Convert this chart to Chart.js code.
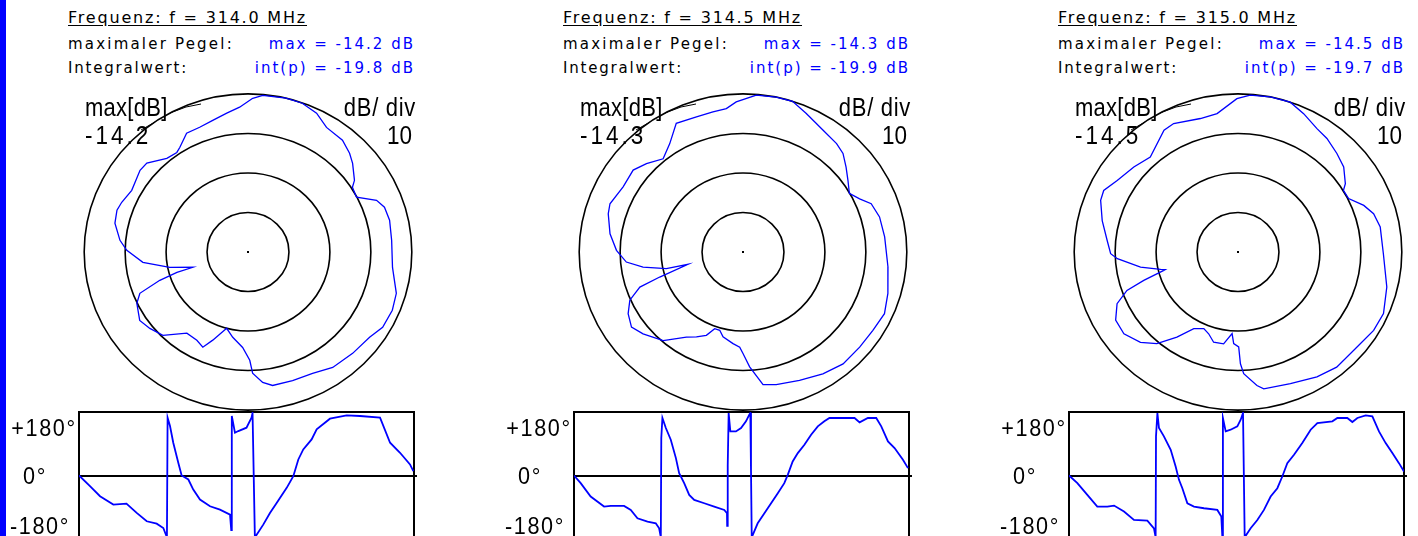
<!DOCTYPE html>
<html><head><meta charset="utf-8">
<script src="https://cdn.jsdelivr.net/npm/chart.js@4"></script>
<style>
html,body{margin:0;padding:0;width:1418px;height:536px;overflow:hidden;background:#fff;}
#strip{position:absolute;left:0;top:0;width:6px;height:536px;background:#0000ff;}
.t{position:absolute;white-space:pre;font-family:"DejaVu Sans",sans-serif;color:#000;}
.blue{color:#0000ff;}
canvas{position:absolute;}
</style></head><body>
<div id="strip"></div>
<script>
// ---------- data ----------
const frequencies = [314.0, 314.5, 315.0];      // MHz
const maxLevels = [-14.2, -14.3, -14.5];         // dB
const integralValues = [-19.8, -19.9, -19.7];    // dB
const dbPerDiv = 10;
const ringCount = 4;

// polar pattern: angle (deg, clockwise from top) and level (dB)
const polarAngles1 = [1.7,5.2,13.4,19.4,25.5,31.3,39.2,44.8,48.7,55.1,57.3,62.4,67.4,71.2,76.9,85.2,96.3,106.1,112.7,120.1,126.0,135.1,144.7,152.8,161.5,169.9,173.8,177.9,179.1,183.1,189.8,195.1,201.1,204.6,209.2,216.0,224.6,231.1,236.8,244.4,248.4,251.6,253.5,254.0,258.5,264.2,270.8,275.4,282.6,288.3,292.2,298.8,308.1,312.3,320.1,325.4,327.9,333.5,339.5,345.5,351.6,356.8];
const polarLevels1 = [-15.3,-14.4,-14.2,-14.3,-15.3,-17.3,-17.7,-19.0,-20.2,-22.5,-23.9,-24.3,-20.2,-19.0,-18.7,-19.0,-18.7,-16.5,-16.0,-16.2,-17.5,-18.0,-18.4,-19.7,-19.9,-19.9,-21.0,-23.5,-26.8,-30.0,-32.3,-34.2,-30.3,-27.7,-28.6,-28.8,-24.6,-23.4,-22.6,-24.1,-25.8,-31.5,-36.1,-40.2,-34.7,-28.4,-24.6,-22.8,-20.9,-20.5,-20.9,-21.8,-20.7,-20.8,-23.3,-23.6,-22.9,-20.6,-20.5,-19.8,-18.7,-17.5];

const polarAngles2 = [4.7,11.6,17.6,23.8,32.3,39.8,44.4,49.5,54.7,60.3,64.7,68.7,75.1,83.7,96.1,106.5,114.3,122.0,130.2,139.2,147.7,157.0,166.4,171.7,176.8,180.0,181.9,186.0,192.8,196.0,199.6,203.0,207.9,212.7,221.0,229.7,235.1,240.9,246.2,250.6,252.7,256.9,257.3,261.1,264.9,270.8,278.1,286.4,290.6,299.4,307.7,313.5,320.4,326.8,333.4,341.6,348.3,353.6,357.5];
const polarLevels2 = [-14.5,-14.3,-14.3,-16.0,-17.8,-18.6,-19.4,-21.2,-22.9,-24.4,-22.8,-20.7,-19.8,-19.5,-18.7,-17.4,-16.4,-16.9,-17.0,-16.9,-17.8,-19.0,-19.8,-20.4,-25.2,-28.6,-30.2,-31.0,-32.3,-33.7,-33.7,-31.4,-30.0,-28.7,-24.6,-22.3,-21.1,-22.2,-24.1,-27.6,-33.0,-40.5,-35.1,-29.6,-25.7,-23.4,-21.5,-20.0,-19.6,-20.7,-20.4,-21.8,-23.7,-21.6,-17.9,-18.3,-18.1,-17.8,-16.3];

const polarAngles3 = [4.3,11.3,18.6,24.6,31.7,37.1,44.1,50.2,56.6,58.8,63.4,69.0,73.7,79.7,90.7,103.7,113.7,120.9,129.7,140.4,148.6,159.0,169.7,172.2,177.4,178.8,179.6,182.6,184.0,188.6,194.6,199.1,203.3,209.1,214.7,220.5,226.2,233.4,240.0,246.1,250.3,252.7,255.6,256.0,256.9,260.9,266.7,269.2,275.3,283.5,291.3,295.4,301.5,310.2,318.3,329.6,334.2,344.8,351.7,359.6];
const polarLevels3 = [-14.7,-14.5,-14.5,-16.0,-17.8,-18.5,-19.8,-20.9,-23.1,-24.4,-24.3,-21.6,-20.0,-19.2,-19.0,-17.1,-15.7,-15.9,-16.8,-16.7,-17.5,-18.8,-19.3,-20.4,-23.7,-26.2,-30.5,-31.3,-33.8,-31.0,-30.9,-32.6,-33.4,-32.3,-28.3,-24.0,-21.5,-19.8,-20.0,-22.2,-25.7,-30.4,-35.8,-36.2,-35.1,-30.4,-25.0,-23.4,-22.4,-20.4,-18.5,-18.2,-19.9,-21.2,-22.3,-18.8,-18.4,-19.5,-19.1,-15.7];

// phase: angle (deg, 0..360) and phase (deg)
const phaseAngles1 = [0,11.8,22.6,36.9,51,62,72.8,83.5,90.6,94.5,95.2,97.8,101.3,106.7,110.3,117.5,122.8,130,140.8,151.5,162.3,163.6,164.2,167.6,171.2,180,185.4,186.5,189,190.9,198,205.2,212.4,223.2,230.3,235.7,241,250,255.4,269.7,287.6,302,323.5,334.3,345,355.7,359.3];
const phaseValues1 = [0,-32,-62,-87,-84,-112,-137,-144,-157,-185,173,148,98,38,0,-12,-42,-72,-92,-102,-117,-163,178,128,133,143,173,187,-185,-177,-147,-112,-82,-37,-2,48,78,108,138,170,180,178,173,98,68,33,13];

const phaseAngles2 = [0,7.2,17.9,32.3,39.5,53.8,61,68.2,79,87.9,91.5,93.3,93.8,95,98.7,104,109.5,113,118.4,123.8,129.2,140,150.7,161.5,164.4,164.6,165.2,166.2,168,174,179.5,184.8,188.4,189.5,190.2,191,197.4,204.6,211.8,219,226,229.7,235,240.5,247.6,254.8,262,269,274.5,290.7,301.5,306.9,315.8,324.8,330.2,337.4,344.5,353.5,358.9];
const phaseValues2 = [0,-23,-63,-93,-91,-91,-103,-128,-138,-143,-158,-185,112,172,142,107,52,7,-23,-58,-73,-83,-93,-103,-113,-151,30,187,132,132,142,162,182,187,17,-185,-143,-113,-83,-53,-23,2,42,67,92,122,147,162,172,172,172,159,172,172,147,102,82,47,22];

const phaseAngles3 = [0,9,19.7,30.4,41.2,48.4,59.1,69.8,84.2,91.3,93.1,93.5,95,96.7,102,109.3,114.6,118.2,121.8,127.2,134.3,145,159.4,163.7,164.8,165.4,168.4,173.7,180.9,184.5,187,188,188.8,195.2,202.4,209.5,216.7,223.9,229.2,234.6,241.8,250.7,259.7,266.9,283,288.4,299.1,304.5,309.9,318.8,326,333.1,340.3,347.5,354.6,360];
const phaseValues3 = [0,-23,-58,-93,-93,-90,-108,-133,-135,-158,-185,117,187,142,117,77,27,-13,-38,-83,-93,-98,-103,-123,-185,172,132,137,147,167,187,187,-185,-158,-133,-103,-63,-38,-3,37,62,97,137,157,162,172,172,160,172,180,177,132,97,67,37,12];

const phaseTicks = [180, 0, -180];
const phaseTickLabels = ['+180°', '0°', '-180°'];

const polarAngles = [polarAngles1, polarAngles2, polarAngles3];
const polarLevels = [polarLevels1, polarLevels2, polarLevels3];
const phaseAngles = [phaseAngles1, phaseAngles2, phaseAngles3];
const phaseValues = [phaseValues1, phaseValues2, phaseValues3];

// ---------- layout ----------
const PANEL_X = [0, 495, 990];
const BLUE = '#0000ff';
const FONT = '"Liberation Sans", Arial, sans-serif';

function addText(txt, left, baseline, size, ls, cls, underline, rightEdge) {
  const d = document.createElement('div');
  d.className = 't' + (cls ? ' ' + cls : '');
  d.textContent = txt;
  d.style.fontSize = size + 'px';
  d.style.lineHeight = size + 'px';
  d.style.letterSpacing = ls + 'px';
  d.style.top = (baseline - size * 0.846) + 'px';
  if (rightEdge !== undefined) d.style.right = (1418 - rightEdge - ls) + 'px';
  else d.style.left = left + 'px';
  if (underline) { d.style.textDecoration = 'underline'; d.style.textUnderlineOffset = '2px'; }
  document.body.appendChild(d);
}

function drawLabel(ctx, text, x, y, align, size, sx, ls) {
  ctx.save();
  ctx.font = size + 'px ' + FONT;
  try { ctx.letterSpacing = ls + 'px'; } catch (e) {}
  ctx.textBaseline = 'alphabetic';
  ctx.textAlign = 'left';
  const w = ctx.measureText(text).width * sx;
  const x0 = align === 'right' ? x - w : (align === 'center' ? x - w / 2 : x);
  ctx.translate(x0, y);
  ctx.scale(sx, 1);
  ctx.fillStyle = '#000';
  ctx.fillText(text, 0, 0);
  ctx.restore();
}

const polarDeco = {
  id: 'polarDeco',
  beforeDatasetsDraw(chart) {
    const { ctx, scales: { x, y } } = chart;
    const cx = x.getPixelForValue(0), cy = y.getPixelForValue(0);
    ctx.save();
    ctx.strokeStyle = '#000';
    ctx.lineWidth = 1.6;
    for (let k = 1; k <= ringCount; k++) {
      const r = k * dbPerDiv;
      const rx = x.getPixelForValue(r) - cx, ry = cy - y.getPixelForValue(r);
      ctx.beginPath();
      ctx.ellipse(cx, cy, rx, ry, 0, 0, Math.PI * 2);
      ctx.stroke();
    }
    ctx.fillStyle = '#000';
    ctx.fillRect(cx - 1, cy - 1, 2, 2);
    ctx.restore();
  },
  afterDraw(chart, args, opts) {
    const { ctx, scales: { x, y } } = chart;
    const cx = x.getPixelForValue(0), cy = y.getPixelForValue(0);
    drawLabel(ctx, 'max[dB]', cx - 163, cy - 136, 'left', 25, 0.88, 0.3);
    drawLabel(ctx, opts.maxLabel, cx - 163, cy - 108, 'left', 25, 0.9, 3.3);
    drawLabel(ctx, 'dB/ div', cx + 168, cy - 136, 'right', 25, 0.88, 0.8);
    drawLabel(ctx, String(dbPerDiv), cx + 164, cy - 108, 'right', 25, 0.9, 0);
    ctx.save();
    ctx.strokeStyle = '#000';
    ctx.lineWidth = 1;
    ctx.beginPath();
    ctx.moveTo(cx - 78, cy - 139); ctx.lineTo(cx - 62, cy - 145); ctx.lineTo(cx - 47, cy - 148);
    ctx.moveTo(cx - 107, cy - 122); ctx.lineTo(cx - 93, cy - 130);
    ctx.stroke();
    ctx.restore();
  }
};

const phaseDeco = {
  id: 'phaseDeco',
  beforeDatasetsDraw(chart) {
    const { ctx, chartArea: a, scales: { y } } = chart;
    ctx.save();
    ctx.strokeStyle = '#000';
    ctx.lineWidth = 2;
    ctx.strokeRect(a.left, a.top, a.right - a.left, a.bottom - a.top + 5);
    const y0 = Math.round(y.getPixelForValue(0));
    ctx.beginPath();
    ctx.moveTo(a.left, y0);
    ctx.lineTo(a.right + 3, y0);
    ctx.stroke();
    ctx.restore();
  },
  afterDraw(chart) {
    const { ctx, chartArea: a, scales: { y } } = chart;
    const centers = [a.left - 35, a.left - 44, a.left - 39];
    const shifts = [12.5, 0, -10.5];
    phaseTicks.forEach((v, i) => {
      const py = y.getPixelForValue(v) + shifts[i];
      drawLabel(ctx, phaseTickLabels[i], centers[i], py + 8.5, 'center', 24, 0.9, 1.8);
    });
  }
};

const baseOpts = {
  responsive: false,
  animation: false,
  devicePixelRatio: 1,
  events: [],
  plugins: { legend: { display: false }, tooltip: { enabled: false } }
};

for (let p = 0; p < 3; p++) {
  const off = PANEL_X[p];
  // header texts
  addText('Frequenz: f = ' + frequencies[p].toFixed(1) + ' MHz', off + 68, 24, 16, 1.8, '', true);
  addText('maximaler Pegel:', off + 68, 50, 15, 2.2, '');
  addText('Integralwert:', off + 68, 74, 15, 1.8, '');
  addText('max = ' + maxLevels[p].toFixed(1) + ' dB', 0, 50, 15, 2.0, 'blue', false, off + 413);
  addText('int(p) = ' + integralValues[p].toFixed(1) + ' dB', 0, 74, 15, 2.0, 'blue', false, off + 413);

  // polar chart
  const pc = document.createElement('canvas');
  pc.width = 344; pc.height = 332;
  pc.style.left = (off + 76) + 'px'; pc.style.top = '86px';
  document.body.appendChild(pc);
  const centerLevel = maxLevels[p] - ringCount * dbPerDiv;
  const pts = polarAngles[p].map((a, i) => {
    const r = Math.max(0, polarLevels[p][i] - centerLevel);
    const t = a * Math.PI / 180;
    return { x: r * Math.sin(t), y: r * Math.cos(t) };
  });
  pts.push(pts[0]);
  new Chart(pc, {
    type: 'scatter',
    data: { datasets: [{ data: pts, showLine: true, borderColor: BLUE, borderWidth: 1.3, pointRadius: 0, tension: 0, fill: false }] },
    options: Object.assign({}, baseOpts, {
      layout: { padding: 0 },
      plugins: Object.assign({}, baseOpts.plugins, { polarDeco: { maxLabel: maxLevels[p].toFixed(1) } }),
      scales: {
        x: { type: 'linear', min: -42, max: 42, display: false },
        y: { type: 'linear', min: -42, max: 42, display: false }
      }
    }),
    plugins: [polarDeco]
  });

  // phase chart
  const fc = document.createElement('canvas');
  fc.width = 420; fc.height = 140;
  fc.style.left = off + 'px'; fc.style.top = '400px';
  document.body.appendChild(fc);
  const ph = phaseAngles[p].map((a, i) => ({ x: a, y: phaseValues[p][i] }));
  new Chart(fc, {
    type: 'scatter',
    data: { datasets: [{ data: ph, showLine: true, borderColor: BLUE, borderWidth: 1.8, pointRadius: 0, tension: 0, fill: false }] },
    options: Object.assign({}, baseOpts, {
      layout: { padding: { left: 79, right: 6, top: 12, bottom: 1 } },
      scales: {
        x: { type: 'linear', min: 0, max: 360, display: false },
        y: { type: 'linear', min: -190, max: 190, display: false }
      }
    }),
    plugins: [phaseDeco]
  });
}
</script></body></html>
